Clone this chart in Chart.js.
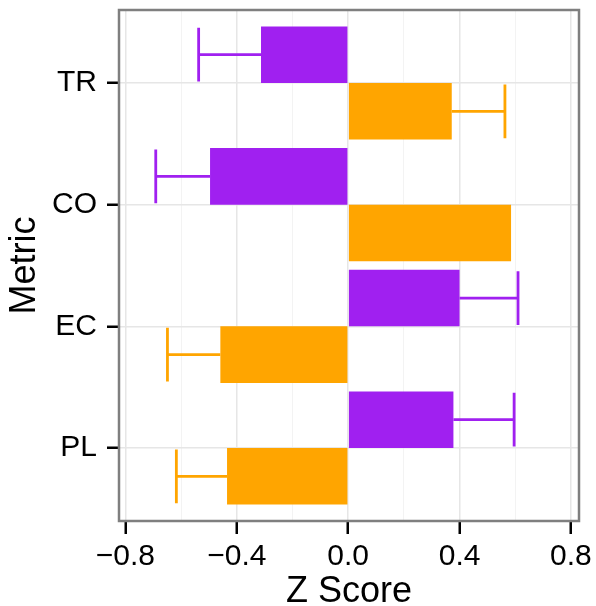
<!DOCTYPE html>
<html>
<head>
<meta charset="utf-8">
<script src="https://cdn.jsdelivr.net/npm/chart.js@4/dist/chart.umd.min.js"></script>
<style>
  html, body { margin: 0; padding: 0; background: #fff; }
  #wrap { width: 596px; height: 606px; }
</style>
</head>
<body>
<div id="wrap"><canvas id="myChart"></canvas></div>
<script>
// datos del grafico (de abajo a arriba)
const metricas = ['PL', 'EC', 'CO', 'TR']
const valoresMorado = [0.378, 0.400, -0.496, -0.313]
const erroresMorado = [0.218, 0.210, 0.195, 0.224]
const valoresNaranja = [-0.435, -0.459, 0.585, 0.372]
const erroresNaranja = [0.182, 0.190, 0, 0.191]
const ticksX = [-0.8, -0.6, -0.4, -0.2, 0, 0.2, 0.4, 0.6, 0.8]
const ticksXMayores = [-0.8, -0.4, 0, 0.4, 0.8]

const morado = '#A020F0'
const naranja = '#FFA500'
const errores = [erroresMorado, erroresNaranja]

const esMayor = v => ticksXMayores.some(t => Math.abs(t - v) < 1e-9)

// plugin para las barras de error
const barrasError = {
  id: 'barrasError',
  afterDatasetsDraw(chart) {
    const ctx = chart.ctx
    const x = chart.scales.x
    chart.data.datasets.forEach((ds, i) => {
      const meta = chart.getDatasetMeta(i)
      meta.data.forEach((bar, j) => {
        const err = errores[i][j]
        if (!err) return
        const v = ds.data[j].x
        const fin = x.getPixelForValue(v + Math.sign(v) * err)
        const h = bar.height * 0.95
        ctx.save()
        ctx.strokeStyle = ds.backgroundColor
        ctx.lineWidth = 2.8
        ctx.beginPath()
        ctx.moveTo(bar.x, bar.y)
        ctx.lineTo(fin, bar.y)
        ctx.moveTo(fin, bar.y - h / 2)
        ctx.lineTo(fin, bar.y + h / 2)
        ctx.stroke()
        ctx.restore()
      })
    })
  }
}

// borde del panel
const bordePanel = {
  id: 'bordePanel',
  afterDraw(chart) {
    const a = chart.chartArea
    const ctx = chart.ctx
    ctx.save()
    ctx.strokeStyle = '#7f7f7f'
    ctx.lineWidth = 2.5
    ctx.strokeRect(a.left, a.top, a.right - a.left, a.bottom - a.top)
    ctx.restore()
  }
}

const fuente = 'Liberation Sans, Arial, Helvetica, sans-serif'

new Chart(document.getElementById('myChart'), {
  type: 'bar',
  data: {
    datasets: [{
      label: 'morado',
      data: valoresMorado.map((v, i) => ({ x: v, y: i })),
      backgroundColor: morado,
      borderWidth: 0
    }, {
      label: 'naranja',
      data: valoresNaranja.map((v, i) => ({ x: v, y: i })),
      backgroundColor: naranja,
      borderWidth: 0
    }]
  },
  options: {
    indexAxis: 'y',
    responsive: true,
    maintainAspectRatio: false,
    animation: false,
    categoryPercentage: 0.93,
    barPercentage: 1.0,
    layout: { padding: { top: 10, right: 17, bottom: 0, left: 0 } },
    plugins: {
      legend: { display: false },
      tooltip: { enabled: false }
    },
    scales: {
      x: {
        type: 'linear',
        min: -0.823,
        max: 0.829,
        afterBuildTicks: s => { s.ticks = ticksX.map(v => ({ value: v })) },
        afterFit: s => { s.height = 85; s.paddingLeft = 0; s.paddingRight = 0 },
        border: { display: false },
        grid: {
          color: c => esMayor(c.tick.value) ? '#e6e6e6' : '#f3f3f3',
          lineWidth: c => esMayor(c.tick.value) ? 1.5 : 1,
          tickColor: c => esMayor(c.tick.value) ? '#000' : 'rgba(0,0,0,0)',
          tickWidth: 2.5,
          tickLength: 13
        },
        ticks: {
          color: '#000',
          font: { family: fuente, size: 30 },
          padding: 5,
          maxRotation: 0,
          autoSkip: false,
          callback: v => esMayor(v) ? (v < 0 ? '\u2212' + Math.abs(v).toFixed(1) : v.toFixed(1)) : ''
        },
        title: {
          display: true,
          text: 'Z Score',
          color: '#000',
          font: { family: fuente, size: 36, lineHeight: 1 },
          padding: { top: 0, bottom: -4 }
        }
      },
      y: {
        type: 'linear',
        min: -0.6,
        max: 3.6,
        offset: false,
        afterBuildTicks: s => { s.ticks = metricas.map((m, i) => ({ value: i })) },
        afterFit: s => { s.width = 119; s.paddingTop = 0; s.paddingBottom = 0 },
        border: { display: false },
        grid: {
          offset: false,
          color: '#e6e6e6',
          lineWidth: 1.5,
          tickColor: '#000',
          tickWidth: 2.5,
          tickLength: 12
        },
        ticks: {
          color: '#000',
          font: { family: fuente, size: 30 },
          padding: 10,
          autoSkip: false,
          callback: v => metricas[v]
        },
        title: {
          display: true,
          text: 'Metric',
          color: '#000',
          font: { family: fuente, size: 36, lineHeight: 1.2 },
          padding: { top: 3, bottom: 0 }
        }
      }
    }
  },
  plugins: [barrasError, bordePanel]
})
</script>
</body>
</html>
